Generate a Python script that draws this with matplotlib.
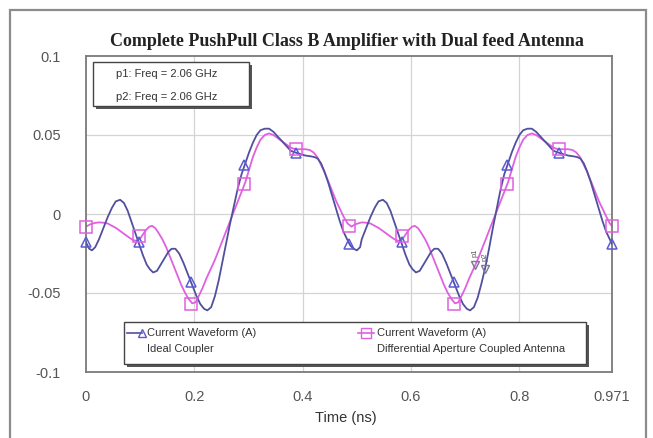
import matplotlib
matplotlib.use("Agg")
import matplotlib.pyplot as plt
from matplotlib.patches import Rectangle
from matplotlib.lines import Line2D

# Ideal Coupler (blue)
t_ideal = [0.000, 0.006, 0.011, 0.017, 0.024, 0.032, 0.040, 0.048, 0.055, 0.063,
           0.070, 0.077, 0.084, 0.091, 0.098, 0.105, 0.112, 0.118, 0.124, 0.131,
           0.138, 0.145, 0.152, 0.158, 0.165, 0.172, 0.180, 0.188, 0.196, 0.204,
           0.211, 0.218, 0.224, 0.231, 0.238, 0.245, 0.252, 0.259, 0.266, 0.273,
           0.280, 0.287, 0.294, 0.301, 0.308, 0.315, 0.322, 0.330, 0.338, 0.346,
           0.354, 0.362, 0.370, 0.378, 0.386, 0.395, 0.405, 0.415, 0.422, 0.428,
           0.434, 0.440, 0.447, 0.454, 0.461, 0.468, 0.475, 0.482, 0.488, 0.494,
           0.500, 0.506, 0.509, 0.517, 0.525, 0.533, 0.540, 0.548, 0.555, 0.562,
           0.569, 0.576, 0.583, 0.590, 0.597, 0.603, 0.609, 0.616, 0.623, 0.630,
           0.637, 0.643, 0.650, 0.657, 0.665, 0.673, 0.681, 0.689, 0.696, 0.703,
           0.709, 0.716, 0.723, 0.730, 0.737, 0.744, 0.751, 0.758, 0.765, 0.772,
           0.779, 0.786, 0.793, 0.800, 0.807, 0.815, 0.823, 0.831, 0.839, 0.847,
           0.855, 0.863, 0.871, 0.880, 0.890, 0.900, 0.907, 0.913, 0.919, 0.925,
           0.932, 0.939, 0.946, 0.953, 0.960, 0.967, 0.971]
i_ideal = [-0.018, -0.022, -0.023, -0.021, -0.016, -0.009, -0.002, 0.004, 0.008, 0.009,
           0.007, 0.002, -0.005, -0.012, -0.019, -0.026, -0.032, -0.035, -0.037, -0.036,
           -0.032, -0.028, -0.024, -0.022, -0.022, -0.025, -0.031, -0.038, -0.045, -0.052,
           -0.057, -0.060, -0.061, -0.059, -0.052, -0.042, -0.030, -0.018, -0.006, 0.005,
           0.016, 0.025, 0.032, 0.039, 0.045, 0.050, 0.053, 0.054, 0.054, 0.052,
           0.049, 0.046, 0.043, 0.040, 0.039, 0.038, 0.037, 0.0365, 0.036, 0.035,
           0.032, 0.027, 0.020, 0.012, 0.004, -0.004, -0.011, -0.016, -0.020, -0.022,
           -0.023, -0.021, -0.016, -0.009, -0.002, 0.004, 0.008, 0.009, 0.007, 0.002,
           -0.005, -0.012, -0.019, -0.026, -0.032, -0.035, -0.037, -0.036, -0.032, -0.028,
           -0.024, -0.022, -0.022, -0.025, -0.031, -0.038, -0.045, -0.052, -0.057, -0.060,
           -0.061, -0.059, -0.053, -0.044, -0.034, -0.022, -0.009, 0.003, 0.015, 0.025,
           0.032, 0.039, 0.045, 0.050, 0.053, 0.054, 0.054, 0.052, 0.049, 0.046,
           0.043, 0.040, 0.039, 0.038, 0.037, 0.0365, 0.036, 0.035, 0.032, 0.027,
           0.020, 0.012, 0.004, -0.004, -0.011, -0.016, -0.019]

# Differential Aperture Coupled Antenna (magenta)
t_diff = [0.000, 0.008, 0.016, 0.024, 0.032, 0.040, 0.048, 0.056, 0.064, 0.072,
          0.080, 0.087, 0.093, 0.099, 0.105, 0.111, 0.117, 0.122, 0.128, 0.134,
          0.141, 0.148, 0.155, 0.162, 0.169, 0.176, 0.183, 0.190, 0.196, 0.202,
          0.208, 0.215, 0.222, 0.230, 0.238, 0.246, 0.254, 0.262, 0.270, 0.278,
          0.286, 0.294, 0.301, 0.308, 0.315, 0.322, 0.330, 0.338, 0.346, 0.354,
          0.362, 0.370, 0.378, 0.386, 0.395, 0.405, 0.413, 0.420, 0.427, 0.434,
          0.441, 0.448, 0.455, 0.462, 0.469, 0.476, 0.483, 0.490, 0.497, 0.505,
          0.509, 0.517, 0.525, 0.533, 0.541, 0.549, 0.557, 0.565, 0.572, 0.578,
          0.584, 0.590, 0.596, 0.602, 0.607, 0.613, 0.619, 0.626, 0.633, 0.640,
          0.647, 0.654, 0.661, 0.668, 0.675, 0.681, 0.687, 0.693, 0.700, 0.707,
          0.715, 0.723, 0.731, 0.739, 0.747, 0.755, 0.763, 0.771, 0.779, 0.786,
          0.793, 0.800, 0.807, 0.815, 0.823, 0.831, 0.839, 0.847, 0.855, 0.863,
          0.871, 0.880, 0.890, 0.898, 0.905, 0.912, 0.919, 0.926, 0.933, 0.940,
          0.947, 0.954, 0.961, 0.967, 0.971]
i_diff = [-0.008, -0.0065, -0.0057, -0.0053, -0.0055, -0.006, -0.0075, -0.009, -0.011, -0.013,
          -0.015, -0.0165, -0.017, -0.016, -0.013, -0.010, -0.008, -0.0075, -0.009, -0.012,
          -0.016, -0.021, -0.027, -0.033, -0.039, -0.045, -0.050, -0.054, -0.0565, -0.056,
          -0.052, -0.047, -0.041, -0.035, -0.029, -0.022, -0.015, -0.008, -0.001, 0.006,
          0.013, 0.020, 0.028, 0.036, 0.042, 0.047, 0.050, 0.051, 0.050, 0.048,
          0.046, 0.044, 0.042, 0.041, 0.041, 0.041, 0.0405, 0.039, 0.036, 0.031,
          0.026, 0.020, 0.014, 0.008, 0.003, -0.002, -0.006, -0.008, -0.0065, -0.0057,
          -0.0053, -0.0055, -0.006, -0.0075, -0.009, -0.011, -0.013, -0.015, -0.0165, -0.017,
          -0.016, -0.013, -0.010, -0.008, -0.0075, -0.009, -0.012, -0.016, -0.021, -0.027,
          -0.033, -0.039, -0.045, -0.050, -0.054, -0.0565, -0.056, -0.052, -0.047, -0.041,
          -0.035, -0.029, -0.022, -0.015, -0.008, -0.001, 0.006, 0.013, 0.020, 0.028,
          0.036, 0.042, 0.047, 0.050, 0.051, 0.050, 0.048, 0.046, 0.044, 0.042,
          0.041, 0.041, 0.041, 0.0405, 0.039, 0.036, 0.031, 0.026, 0.020, 0.014,
          0.008, 0.003, -0.002, -0.006, -0.0077]

# marker positions (every 0.0971 ns)
t_mark = [0.0, 0.0971, 0.1942, 0.2913, 0.3884, 0.4855, 0.5826, 0.6797, 0.7768, 0.8739, 0.971]
m_ideal = [-0.018, -0.018, -0.043, 0.031, 0.0385, -0.019, -0.018, -0.043, 0.031, 0.0385, -0.019]
m_diff = [-0.008, -0.014, -0.057, 0.019, 0.041, -0.0077, -0.014, -0.057, 0.019, 0.041, -0.0077]

# p1 / p2 markers
p_t = [0.719, 0.737]
p_i = [-0.032, -0.035]
p_names = ["p1", "p2"]

x_ticks = [0, 0.2, 0.4, 0.6, 0.8, 0.971]
x_labels = ["0", "0.2", "0.4", "0.6", "0.8", "0.971"]
y_ticks = [-0.1, -0.05, 0, 0.05, 0.1]
y_labels = ["-0.1", "-0.05", "0", "0.05", "0.1"]

blue = "#50509e"
blue_mk = "#5a5ad6"
mag = "#e060e0"
tick_col = "#555555"

W, H = 653, 438
fig = plt.figure(figsize=(W / 100, H / 100), dpi=100)


def fx(px):
    return px / W


def fy(py):
    return 1 - py / H


# outer frame
fig.patches.append(Rectangle((fx(10), fy(460)), fx(636), (450) / H, transform=fig.transFigure,
                             fill=False, edgecolor="#8c8c8c", lw=1.6))

ax = fig.add_axes([fx(86), fy(372), fx(612) - fx(86), fy(56) - fy(372)])
ax.set_xlim(0, 0.971)
ax.set_ylim(-0.1, 0.1)

for g in [0.2, 0.4, 0.6, 0.8]:
    ax.axvline(g, color="#d4d4d4", lw=0.9, zorder=0)
for g in [-0.05, 0, 0.05]:
    ax.axhline(g, color="#d4d4d4", lw=0.9, zorder=0)

ax.plot(t_ideal, i_ideal, color=blue, lw=1.3, zorder=3)
ax.plot(t_diff, i_diff, color=mag, lw=1.3, zorder=2)
ax.plot(t_mark, m_ideal, ls="none", marker="^", ms=7, mfc="none", mec=blue_mk, mew=1.1, zorder=4, clip_on=False)
ax.plot(t_mark, m_diff, ls="none", marker="s", ms=8, mfc="none", mec=mag, mew=1.1, zorder=4, clip_on=False)

for t, v, name in zip(p_t, p_i, p_names):
    ax.plot(t, v, marker="v", ms=6, mfc="none", mec="#777799", mew=1.0, zorder=5)
    ax.text(t, v + 0.005, name, fontsize=5.5, rotation=90, ha="center", va="bottom",
            color="#555555", family="Liberation Sans")

ax.set_xticks(x_ticks)
ax.set_xticklabels(x_labels)
ax.set_yticks(y_ticks)
ax.set_yticklabels(y_labels)
ax.tick_params(length=0, labelsize=10.5, colors=tick_col)
ax.tick_params(axis="x", pad=13)
ax.tick_params(axis="y", pad=18)
for lab in ax.get_xticklabels() + ax.get_yticklabels():
    lab.set_family("Liberation Sans")
for s in ax.spines.values():
    s.set_color("#7a7a7a")
    s.set_linewidth(1.3)

fig.text(fx(347), fy(42), "Complete PushPull Class B Amplifier with Dual feed Antenna",
         ha="center", va="center", fontsize=13, fontweight="bold", family="Liberation Serif",
         color="#222222")
fig.text(fx(346), fy(418), "Time (ns)", ha="center", va="center", fontsize=10.5,
         family="Liberation Sans", color="#333333")


def box(x0, y0, x1, y1):
    fig.patches.append(Rectangle((fx(x0 + 3), fy(y1 + 3)), fx(x1 - x0), (y1 - y0) / H,
                                 transform=fig.transFigure, facecolor="#555555",
                                 edgecolor="none", zorder=5))
    fig.patches.append(Rectangle((fx(x0), fy(y1)), fx(x1 - x0), (y1 - y0) / H,
                                 transform=fig.transFigure, facecolor="white",
                                 edgecolor="#444444", lw=1.0, zorder=6))


# marker readout box
box(93, 62, 249, 106)
fig.text(fx(116), fy(74), "p1: Freq = 2.06 GHz", fontsize=8, va="center",
         family="Liberation Sans", color="#333333", zorder=7)
fig.text(fx(116), fy(97), "p2: Freq = 2.06 GHz", fontsize=8, va="center",
         family="Liberation Sans", color="#333333", zorder=7)

# legend box
box(124, 322, 586, 364)
fig.lines.append(Line2D([fx(127), fx(142)], [fy(333), fy(333)], transform=fig.transFigure,
                        color=blue, lw=1.2, marker="^", markevery=[1], ms=6, mfc="none",
                        mec=blue_mk, zorder=7))
fig.lines.append(Line2D([fx(358), fx(374)], [fy(333), fy(333)], transform=fig.transFigure,
                        color=mag, lw=1.2, zorder=7))
fig.lines.append(Line2D([fx(366)], [fy(333)], transform=fig.transFigure, ls="none",
                        marker="s", ms=7, mfc="none", mec=mag, zorder=7))
fig.text(fx(147), fy(333), "Current Waveform (A)", fontsize=8, va="center",
         family="Liberation Sans", color="#333333", zorder=7)
fig.text(fx(147), fy(349), "Ideal Coupler", fontsize=8, va="center",
         family="Liberation Sans", color="#333333", zorder=7)
fig.text(fx(377), fy(333), "Current Waveform (A)", fontsize=8, va="center",
         family="Liberation Sans", color="#333333", zorder=7)
fig.text(fx(377), fy(349), "Differential Aperture Coupled Antenna", fontsize=8, va="center",
         family="Liberation Sans", color="#333333", zorder=7)

fig.savefig("out.png", dpi=100)
